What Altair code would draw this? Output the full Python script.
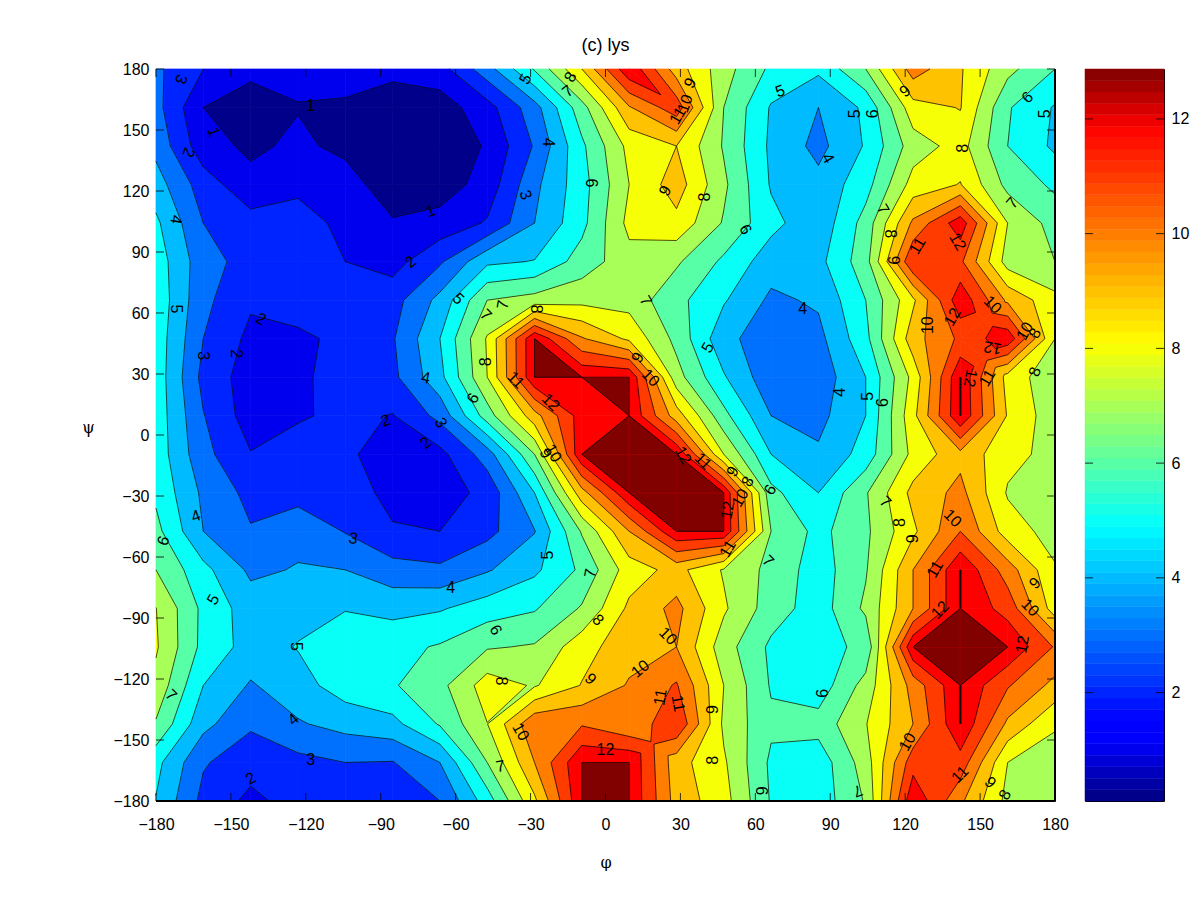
import altair as alt
import numpy as np

M = 12.87
Z_MIN = 0.11
LEVELS = list(range(1, 13)) + [M]
N = 20
# rows listed from psi = +180 (top) down to psi = -180 (bottom), 20 nodes each way
ROW_19 = [3.2,2.0,1.15,1.3,1.29,1.2,1.6,3.6,6.1,9.0,12.8,9.5,7.4,5.8,5.2,7.0,10.5,9.1,7.3,6.0]
ROW_18 = [3.35,1.0,0.7,0.95,0.9,0.6,0.5,1.6,3.6,6.6,9.9,11.6,7.0,4.9,4.0,5.2,8.6,9.05,6.1,4.9]
ROW_17 = [3.7,1.4,0.8,1.2,0.75,0.3,0.3,1.1,3.1,5.8,8.3,9.0,6.9,4.8,3.7,5.1,7.5,8.4,6.0,4.8]
ROW_16 = [4.45,2.5,1.3,1.5,1.45,0.4,0.5,1.4,3.75,5.6,8.0,9.5,7.2,4.9,4.3,5.6,8.4,9.05,6.7,5.8]
ROW_15 = [5.2,3.0,2.4,2.9,1.45,1.1,1.36,2.1,4.0,5.7,8.3,8.7,6.9,5.3,4.3,6.4,10.2,12.6,8.0,6.6]
ROW_14 = [5.55,3.4,2.6,2.7,2.0,1.6,2.85,4.8,5.05,6.45,7.6,7.15,5.8,4.45,4.7,6.6,11.95,11.2,7.55,7.0]
ROW_13 = [5.7,3.25,2.15,2.6,2.6,2.6,4.3,7.0,7.4,7.7,7.6,6.3,5.1,3.8,4.15,6.0,8.8,12.7,9.8,8.3]
ROW_12 = [5.6,3.0,1.75,1.75,2.3,2.9,5.0,8.1,12.87,10.1,8.8,6.7,4.3,3.4,3.7,5.7,9.6,11.2,12.7,8.0]
ROW_11 = [5.6,2.7,1.5,1.7,2.64,2.75,4.7,8.0,12.87,12.87,12.87,7.4,5.1,3.3,3.4,5.0,8.3,12.87,8.6,7.3]
ROW_10 = [5.6,3.05,1.5,1.85,2.3,1.95,3.3,6.5,9.6,12.5,12.87,9.5,6.3,4.0,3.7,5.0,8.7,12.87,8.9,7.4]
ROW_09 = [5.6,3.3,2.05,2.6,2.15,1.6,1.7,3.5,7.0,12.87,12.87,12.87,8.0,5.0,4.15,5.4,8.3,9.7,8.3,7.7]
ROW_08 = [5.8,3.8,2.7,2.6,2.5,1.7,1.5,2.3,5.0,9.6,12.87,12.87,12.87,6.3,5.0,6.9,9.3,10.3,7.9,7.4]
ROW_07 = [6.3,4.0,3.08,3.7,2.95,2.1,2.0,2.7,3.95,7.1,10.0,12.87,12.87,7.0,5.7,6.8,8.8,11.0,8.5,7.6]
ROW_06 = [7.0,5.3,3.8,4.07,4.0,3.4,3.2,3.9,4.8,6.2,8.5,9.34,7.9,6.7,5.5,6.9,10.0,12.87,10.5,8.1]
ROW_05 = [8.02,5.75,4.5,4.7,4.95,4.7,4.9,5.5,5.9,7.1,9.2,10.3,8.15,6.5,5.5,7.2,10.0,12.87,11.6,8.5]
ROW_04 = [8.12,5.7,4.6,5.05,5.6,5.7,6.1,6.9,7.1,8.6,9.6,10.0,7.45,5.8,5.7,6.2,12.87,12.87,12.87,10.9]
ROW_03 = [7.7,5.0,3.9,4.6,5.5,5.9,6.7,8.5,7.9,9.05,10.1,11.1,8.0,5.9,5.4,7.4,10.4,12.87,11.1,9.7]
ROW_02 = [6.9,4.3,3.15,3.9,4.35,4.7,6.1,7.98,10.8,10.9,10.1,11.95,7.8,6.2,6.4,7.95,10.0,12.87,9.8,8.1]
ROW_01 = [5.3,3.1,2.4,2.7,3.0,2.95,4.0,7.0,10.0,12.87,12.87,9.4,8.15,5.8,5.4,7.5,11.6,11.6,8.0,7.6]
ROW_00 = [4.95,2.7,1.75,2.4,2.6,2.8,3.0,5.5,8.8,12.87,12.87,9.6,8.4,5.9,5.4,7.1,12.8,10.2,7.7,7.5]
ROWS = [ROW_00,ROW_01,ROW_02,ROW_03,ROW_04,ROW_05,ROW_06,ROW_07,ROW_08,ROW_09,
        ROW_10,ROW_11,ROW_12,ROW_13,ROW_14,ROW_15,ROW_16,ROW_17,ROW_18,ROW_19]
# ambiguous cells (column, row); all others follow the cell mean
SADDLE_JOIN = {(7, 2): "low", (10, 18): "high"}

CONTOUR_LABELS = [
("5",-32,175,300),("8",-14,176,300),("7",-15,169,320),("9",34,173,300),("10",32,163,290),("11",29,157,300),
("5",70,169,340),("5",100,158,270),("6",107,158,270),("6",169,166,315),("5",176,158,270),("9",120,169,320),
("3",-170,175,110),("1",-157,149,70),("2",-167,139,110),("1",-118,162,0),("4",-172,106,100),("1",-70,110,340),
("2",-78,85,320),("5",-172,62,90),("4",-23,144,90),("8",143,141,270),("4",89,136,60),("6",-6,124,90),
("9",24,120,300),("8",40,117,270),("3",-32,118,70),("7",163,114,310),("7",111,111,60),("6",56,101,60),
("8",114,99,90),("9",115,86,90),("11",125,93,300),("12",141,95,60),("10",155,64,45),("12",139,58,300),
("7",16,66,60),("5",-59,67,45),("7",-48,59,45),("7",-41,64,280),("8",-28,62,90),("4",79,62,0),("2",-138,57,30),
("5",41,43,300),("10",129,54,270),("12",155,43,190),("10",168,51,300),("8",172,50,300),("12",146,28,100),
("11",153,28,300),("8",172,31,290),("2",-148,40,90),("3",-161,39,90),("4",-72,28,10),("8",-48,36,270),
("11",-36,27,45),("12",-22,16,45),("9",13,38,300),("10",18,28,45),("6",-53,18,300),("3",-66,6,60),("2",-88,7,340),
("2",-72,-4,320),("5",105,19,270),("6",111,16,270),("4",94,21,270),("10",-21,-9,60),("9",-24,-9,60),("12",31,-10,60),
("11",39,-13,45),("9",51,-18,300),("8",57,-23,300),("10",54,-31,300),("12",49,-37,280),("6",66,-27,300),
("7",112,-33,45),("10",139,-41,45),("4",-164,-40,340),("8",118,-43,270),("9",123,-51,270),("6",-177,-52,290),
("3",-101,-51,10),("11",49,-56,300),("5",-23,-59,270),("7",65,-62,45),("7",-6,-68,280),("11",132,-66,300),
("9",172,-73,315),("4",-62,-75,0),("5",-157,-81,300),("8",-3,-91,45),("10",170,-85,45),("6",-44,-96,60),
("12",134,-86,315),("10",25,-99,45),("5",-124,-104,90),("12",167,-103,280),("8",-42,-121,90),("9",-6,-120,45),
("10",14,-115,320),("7",-174,-128,45),("11",22,-129,280),("11",29,-132,80),("6",87,-127,270),("9",43,-135,270),
("4",-125,-140,320),("10",-34,-146,60),("10",121,-151,300),("12",0,-155,0),("8",43,-160,270),("7",-42,-163,350),
("3",-118,-160,0),("11",142,-167,315),("9",154,-171,45),("8",160,-177,300),("2",-142,-169,330),("9",63,-175,270),
("7",101,-175,160),
]
PHI_TICKS = list(range(-180, 181, 30))
BAR_TICKS = [2, 4, 6, 8, 10, 12]

def cmap(f):
    r = np.interp(f, [0,.375,.625,.92,1], [0,0,1,1,.5])
    g = np.interp(f, [0,.11,.375,.625,.92,1], [0,0,1,1,0,0])
    b = np.interp(f, [0,.08,.375,.625,1], [.5,1,1,0,0])
    return "#%02x%02x%02x" % (int(r*255), int(g*255), int(b*255))
def color_for(v):
    i = int(np.clip((v - Z_MIN) / (M - Z_MIN) * 64, 0, 63))
    return cmap((i + .5) / 64)

Z = np.array(ROWS, float)
NODES = np.linspace(-180, 180, N)
bounds = [-np.inf] + LEVELS + [np.inf]
band_colors = [color_for(b) if np.isfinite(b) else color_for(Z_MIN) for b in bounds[:-1]]
band_colors[-1] = cmap(.999)
band_colors[-2] = "#ff0000"

def is_saddle(P):
    for L in LEVELS:
        s = [p[2] < L for p in P]
        if s[0] == s[2] and s[1] == s[3] and s[0] != s[1]:
            return True
    return False

polys, segs, ridges = [], [], []
pid = 0
for j in range(N - 1):
    for i in range(N - 1):
        P = [(NODES[i], NODES[j], Z[j, i]), (NODES[i+1], NODES[j], Z[j, i+1]),
             (NODES[i+1], NODES[j+1], Z[j+1, i+1]), (NODES[i], NODES[j+1], Z[j+1, i])]
        if is_saddle(P):
            d1, d2 = P[0][2] + P[2][2], P[1][2] + P[3][2]
            join = SADDLE_JOIN.get((i, j))
            if join == "low":
                zc = min(d1, d2) / 2
            elif join == "high":
                zc = max(d1, d2) / 2
            else:
                zc = (d1 + d2) / 4
            cx, cy = (NODES[i] + NODES[i+1]) / 2, (NODES[j] + NODES[j+1]) / 2
            subs = [[P[k], P[(k+1) % 4], (cx, cy, zc)] for k in range(4)]
        else:
            subs = [P]
        for Q in subs:
            m = len(Q)
            for bi in range(len(bounds) - 1):
                a, b = bounds[bi], bounds[bi+1]
                pts = []
                for k in range(m):
                    x0, y0, z0 = Q[k]; x1, y1, z1 = Q[(k+1) % m]
                    if a <= z0 <= b:
                        pts.append((x0, y0))
                    if z0 != z1:
                        cuts = [l for l in (a, b) if np.isfinite(l) and min(z0, z1) < l < max(z0, z1)]
                        ts = sorted((l - z0) / (z1 - z0) for l in cuts)
                        for t in ts:
                            pts.append((x0 + t*(x1-x0), y0 + t*(y1-y0)))
                if len(pts) >= 3:
                    for n, (x, y) in enumerate(pts):
                        polys.append({"x": float(x), "y": float(y), "id": pid, "k": n, "c": band_colors[bi]})
                    pid += 1
            for L in LEVELS:
                cross = []
                for k in range(m):
                    x0, y0, z0 = Q[k]; x1, y1, z1 = Q[(k+1) % m]
                    if (z0 < L) != (z1 < L):
                        t = (L - z0) / (z1 - z0)
                        cross.append((x0 + t*(x1-x0), y0 + t*(y1-y0)))
                if len(cross) == 2:
                    segs.append({"x": float(cross[0][0]), "y": float(cross[0][1]),
                                 "x2": float(cross[1][0]), "y2": float(cross[1][1])})

# ridges: pairs of neighbouring clipped nodes that enclose no area
for j in range(N):
    for i in range(N):
        for dj, di in ((1, 0), (0, 1)):
            jj, ii = j + dj, i + di
            if jj < N and ii < N and Z[j, i] >= M and Z[jj, ii] >= M:
                area = False
                for s in (-1, 0):
                    if di == 0:
                        c = i + s
                        if 0 <= c < N-1 and (Z[j:j+2, c:c+2] >= M).sum() >= 3:
                            area = True
                    else:
                        r = j + s
                        if 0 <= r < N-1 and (Z[r:r+2, i:i+2] >= M).sum() >= 3:
                            area = True
                if not area:
                    ridges.append({"x": float(NODES[i]), "y": float(NODES[j]), "x2": float(NODES[ii]), "y2": float(NODES[jj])})

alt.data_transformers.disable_max_rows()
W, H = 899, 732
FONT = "Liberation Sans"
xs = alt.Scale(domain=[-180, 180], nice=False, zero=False)
ys = alt.Scale(domain=[-180, 180], nice=False, zero=False)
AX = alt.Axis(title="φ", values=PHI_TICKS, grid=False, ticks=False, domain=False, labelFlush=False, labelOverlap=False,
              labelPadding=15, labelFontSize=16, labelFont=FONT, labelColor="black", titleFont="DejaVu Serif",
              titleFontSize=16, titleFontWeight="normal", titleColor="black", titlePadding=22)
AY = alt.Axis(title="ψ", values=PHI_TICKS, grid=False, ticks=False, domain=False, labelFlush=False, labelOverlap=False,
              labelPadding=7, labelFontSize=16, labelFont=FONT, labelColor="black", titleFont="DejaVu Serif",
              titleFontSize=16, titleFontWeight="normal", titleColor="black", titleAngle=0, titlePadding=25)
X = alt.X("x:Q", scale=xs, axis=AX)
Y = alt.Y("y:Q", scale=ys, axis=AY)

fill = alt.Chart(alt.Data(values=polys)).mark_line(strokeWidth=0.7, interpolate="linear-closed").encode(
    x=X, y=Y, detail="id:N", order="k:Q",
    fill=alt.Fill("c:N", scale=None), stroke=alt.Stroke("c:N", scale=None))

lines = alt.Chart(alt.Data(values=segs)).mark_rule(color="black", strokeWidth=0.7).encode(
    x=X, y=Y, x2="x2:Q", y2="y2:Q")
ridge = alt.Chart(alt.Data(values=ridges)).mark_rule(color="#800000", strokeWidth=3).encode(
    x=X, y=Y, x2="x2:Q", y2="y2:Q")

lab_rows = [{"t": t, "x": a, "y": b, "a": g} for t, a, b, g in CONTOUR_LABELS]
labels = alt.Chart(alt.Data(values=lab_rows)).mark_text(font=FONT, fontSize=16, color="black", baseline="middle", align="center").encode(
    x=X, y=Y, text="t:N", angle=alt.Angle("a:Q", scale=None))

tick_rows = [{"v": v} for v in PHI_TICKS]
TK = 8
def xticks(chart_y0, chart_y1):
    return alt.Chart(alt.Data(values=tick_rows)).mark_rule(color="black", strokeWidth=0.8).encode(
        x=alt.X("v:Q", scale=xs, axis=AX), y=alt.value(chart_y0), y2=alt.value(chart_y1))
def yticks(x0, x1):
    return alt.Chart(alt.Data(values=tick_rows)).mark_rule(color="black", strokeWidth=0.8).encode(
        y=alt.Y("v:Q", scale=ys, axis=AY), x=alt.value(x0), x2=alt.value(x1))
frame_b = alt.Chart(alt.Data(values=[{"v": 0}])).mark_rule(color="black", strokeWidth=2).encode(
    x=alt.value(0), x2=alt.value(W), y=alt.value(H))
frame_r = alt.Chart(alt.Data(values=[{"v": 0}])).mark_rule(color="black", strokeWidth=2).encode(
    y=alt.value(0), y2=alt.value(H), x=alt.value(W))

main = alt.layer(fill, ridge, lines, labels, xticks(0, TK), xticks(H - TK, H), yticks(0, TK), yticks(W - TK, W),
                 frame_b, frame_r).properties(
    width=W, height=H,
    title=alt.TitleParams("(c) lys", font=FONT, fontSize=18, fontWeight="normal", color="black", anchor="middle", offset=6),
)

edges = np.linspace(Z_MIN, M, 65)
bar_rows = [{"a": float(edges[i]), "b": float(edges[i+1]), "c": cmap((i + .5) / 64)} for i in range(64)]
bs = alt.Scale(domain=[Z_MIN, M], nice=False, zero=False)
AB = alt.Axis(title=None, orient="right", values=BAR_TICKS, grid=False, ticks=False, labelFlush=False,
              domain=False, labelPadding=7, labelFontSize=16, labelFont=FONT, labelColor="black")
bar = alt.Chart(alt.Data(values=bar_rows)).mark_rect(strokeWidth=0.5).encode(
    y=alt.Y("a:Q", scale=bs, axis=AB),
    y2="b:Q", x=alt.value(0), x2=alt.value(79), fill=alt.Fill("c:N", scale=None), stroke=alt.Stroke("c:N", scale=None))
btick_rows = [{"v": v} for v in BAR_TICKS]
bt1 = alt.Chart(alt.Data(values=btick_rows)).mark_rule(color="black", strokeWidth=0.8).encode(
    y=alt.Y("v:Q", scale=bs, axis=AB), x=alt.value(0), x2=alt.value(8))
bt2 = alt.Chart(alt.Data(values=btick_rows)).mark_rule(color="black", strokeWidth=0.8).encode(
    y=alt.Y("v:Q", scale=bs, axis=AB), x=alt.value(71), x2=alt.value(79))
colorbar = alt.layer(bar, bt1, bt2).properties(width=79, height=H)

chart = alt.hconcat(main, colorbar, spacing=15).properties(
    padding={"left": 73, "top": 28, "right": 0, "bottom": 0}
).configure_view(stroke="black", strokeWidth=1)
chart.save("out.html", embed_options={"renderer": "svg", "actions": False})
